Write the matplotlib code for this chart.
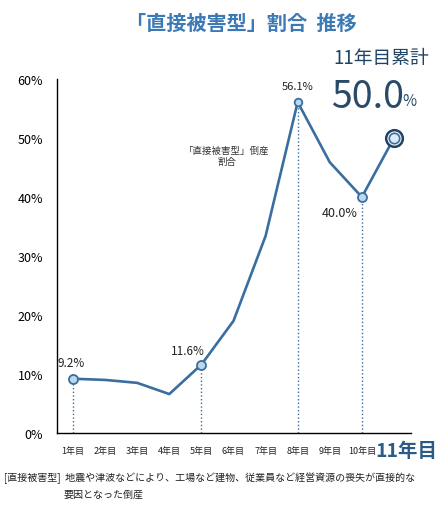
import matplotlib
matplotlib.use("Agg")
import matplotlib.pyplot as plt
from matplotlib.transforms import ScaledTranslation

plt.rcParams['font.family'] = ['Noto Sans CJK JP', 'DejaVu Sans']

# data
years = list(range(1, 12))
year_labels = ["1年目", "2年目", "3年目", "4年目", "5年目", "6年目",
               "7年目", "8年目", "9年目", "10年目", "11年目"]
share = [9.2, 9.0, 8.5, 6.6, 11.6, 19.0, 33.4, 56.1, 45.9, 40.0, 50.0]
labelled = [1, 5, 8, 10]
label_text = {1: "9.2%", 5: "11.6%", 8: "56.1%", 10: "40.0%"}

line_col = '#3a6e9e'
fill_col = '#bdd7ee'
navy = '#1f4466'

fig = plt.figure(figsize=(4.4, 5.1), dpi=100)
ax = fig.add_axes([0.1295, 0.149, 0.8045, 0.694])

# dotted drop lines
for yr in labelled:
    v = share[yr - 1]
    ax.plot([yr, yr], [0, v], linestyle=':', color=line_col, linewidth=1.0)

ax.plot(years, share, color=line_col, linewidth=1.9, zorder=3)

# markers
for yr in labelled:
    ax.plot(yr, share[yr - 1], 'o', markersize=6.5 if yr != 8 else 5.5,
            markerfacecolor=fill_col, markeredgecolor=line_col,
            markeredgewidth=1.3, zorder=4)
ax.plot(11, share[10], 'o', markersize=12, markerfacecolor='white',
        markeredgecolor=navy, markeredgewidth=1.8, zorder=4)
ax.plot(11, share[10], 'o', markersize=7.5, markerfacecolor='#dce9f7',
        markeredgecolor=line_col, markeredgewidth=1.2, zorder=5)

# value labels
ax.text(0.95, 10.9, label_text[1], ha='center', va='bottom', fontsize=8.5, color='#222222')
ax.text(4.58, 12.9, label_text[5], ha='center', va='bottom', fontsize=8.5, color='#222222')
ax.text(8, 58.0, label_text[8], ha='center', va='bottom', fontsize=8, color='#222222')
ax.text(9.3, 38.5, label_text[10], ha='center', va='top', fontsize=9, color='#222222')

ax.text(5.8, 47.0, "「直接被害型」倒産\n割合", ha='center', va='center',
        fontsize=6.8, color='#333333', linespacing=1.4)

ax.set_xlim(0.5, 11.53)
ax.set_ylim(0, 60)
ax.set_yticks([0, 10, 20, 30, 40, 50, 60])
ax.set_yticklabels([f"{v}%" for v in [0, 10, 20, 30, 40, 50, 60]], fontsize=9)
ax.set_xticks(years)
ax.set_xticklabels(year_labels)
ax.tick_params(axis='both', length=0)
ax.tick_params(axis='x', pad=9)
ax.tick_params(axis='y', pad=10)
for i, t in enumerate(ax.get_xticklabels()):
    if i == 10:
        t.set_fontsize(14)
        t.set_fontweight('bold')
        t.set_color('#2b5b86')
        t.set_transform(t.get_transform() +
                        ScaledTranslation(0.125, 0.05, fig.dpi_scale_trans))
    else:
        t.set_fontsize(6.5)
        t.set_color('#222222')
for s in ['top', 'right']:
    ax.spines[s].set_visible(False)
ax.spines['left'].set_linewidth(1.0)
ax.spines['bottom'].set_linewidth(1.0)

# titles and side notes
fig.text(0.548, 0.955, "「直接被害型」割合  推移", ha='center', va='center',
         fontsize=14.5, fontweight='bold', color='#3c7ab5')
fig.text(0.757, 0.886, "11年目累計", ha='left', va='center',
         fontsize=13.5, color=navy)
fig.text(0.752, 0.808, "50.0", ha='left', va='center',
         fontsize=27, color='#2a4a6a')
fig.text(0.915, 0.800, "%", ha='left', va='center',
         fontsize=11, color='#2a4a6a')

fig.text(0.008, 0.063, "[直接被害型]  地震や津波などにより、工場など建物、従業員など経営資源の喪失が直接的な",
         ha='left', va='center', fontsize=7.2, color='#222222')
fig.text(0.145, 0.029, "要因となった倒産", ha='left', va='center',
         fontsize=7.2, color='#222222')

fig.savefig("out.png", dpi=100)
